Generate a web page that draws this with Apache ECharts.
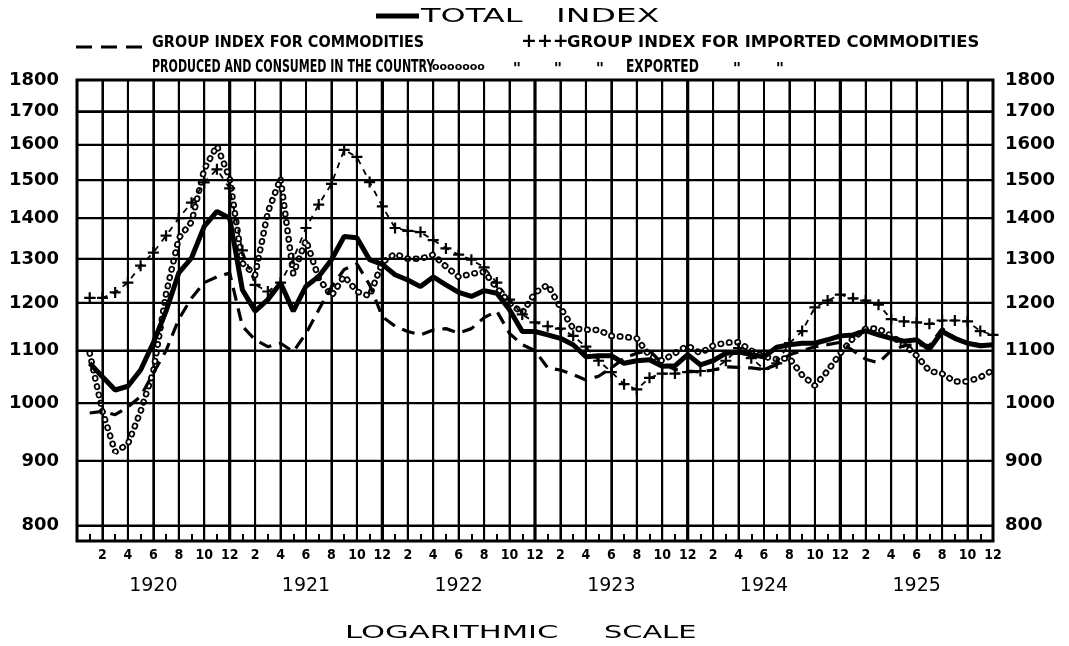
<!DOCTYPE html>
<html>
<head>
<meta charset="utf-8">
<title>Index numbers 1920-1925</title>
<script src="https://cdn.jsdelivr.net/npm/echarts@6/dist/echarts.min.js"></script>
<style>
  html, body { margin: 0; padding: 0; background: #fff; }
  #chart { width: 1069px; height: 646px; }
</style>
</head>
<body>
<div id="chart"></div>
<script>
// months Jan 1920 .. Dec 1925, one value per month
const years = ['1920', '1921', '1922', '1923', '1924', '1925'];
const yTicks = [800, 900, 1000, 1100, 1200, 1300, 1400, 1500, 1600, 1700, 1800];
const monthLines = [2, 4, 6, 8, 10, 14, 16, 18, 20, 22, 26, 28, 30, 32, 34, 38, 40, 42, 44, 46,
  50, 52, 54, 56, 58, 62, 64, 66, 68, 70];
const yearLines = [12, 24, 36, 48, 60];
const yMin = 778;
const yMax = 1800;

const totalIndex = [
  1075, 1049, 1024, 1031, 1062, 1116, 1182, 1267, 1302, 1379, 1417, 1400,
  1229, 1182, 1207, 1244, 1182, 1237, 1259, 1298, 1354, 1351, 1298, 1287,
  1263, 1251, 1236, 1258, 1240, 1223, 1214, 1227, 1221, 1185, 1139, 1139,
  1132, 1125, 1112, 1088, 1090, 1090, 1075, 1080, 1082, 1069, 1070, 1092,
  1072, 1080, 1095, 1097, 1092, 1088, 1107, 1112, 1115, 1115, 1122, 1130,
  1132, 1141, 1132, 1125, 1119, 1122, 1103, 1139, 1125, 1115, 1110, 1112
];
const domestic = [
  982, 985, 979, 993, 1012, 1056, 1100, 1165, 1210, 1245, 1258, 1267,
  1150, 1122, 1108, 1115, 1098, 1135, 1185, 1235, 1275, 1288, 1240, 1170,
  1150, 1139, 1132, 1142, 1145, 1136, 1145, 1168, 1182, 1135, 1112, 1100,
  1066, 1062, 1053, 1043, 1050, 1066, 1085, 1095, 1100, 1075, 1063, 1060,
  1058, 1062, 1068, 1067, 1066, 1063, 1072, 1092, 1100, 1108, 1112, 1117,
  1100, 1083, 1076, 1100, 1110, 1112, 1110, 1145, 1125, 1115, 1112, 1110
];
const imported = [
  1211, 1211, 1223, 1245, 1284, 1315, 1356, 1400, 1440, 1494, 1530, 1478,
  1320, 1240, 1225, 1245, 1300, 1375, 1435, 1490, 1585, 1565, 1495, 1430,
  1375, 1368, 1365, 1345, 1325, 1310, 1298, 1280, 1245, 1207, 1175, 1158,
  1150, 1145, 1130, 1108, 1080, 1058, 1035, 1025, 1047, 1055, 1055, 1058,
  1060, 1062, 1080, 1105, 1085, 1064, 1075, 1115, 1140, 1190, 1205, 1218,
  1210, 1205, 1196, 1165, 1160, 1158, 1155, 1162, 1162, 1160, 1140, 1132
];
const exported = [
  1095, 985, 915, 928, 985, 1059, 1220, 1350, 1390, 1530, 1597, 1505,
  1290, 1262, 1415, 1505, 1265, 1345, 1255, 1215, 1260, 1225, 1215, 1292,
  1312, 1300, 1300, 1310, 1282, 1258, 1265, 1270, 1233, 1200, 1178, 1222,
  1240, 1190, 1145, 1143, 1142, 1130, 1128, 1125, 1090, 1080, 1095, 1110,
  1095, 1110, 1116, 1117, 1100, 1088, 1083, 1085, 1052, 1032, 1060, 1095,
  1125, 1145, 1145, 1130, 1112, 1090, 1060, 1055, 1040, 1040, 1048, 1062
];

function pairs (arr) {
  return arr.map((v, i) => [i + 1, v]);
}

// ruled paper drawn as broken polylines, '-' splits the segments
function hRules (vals) {
  const out = [];
  vals.forEach(v => { out.push([0, v], [72, v], ['-', '-']); });
  return out;
}
function vRules (ms) {
  const out = [];
  ms.forEach(m => { out.push([m, yMin], [m, yMax], ['-', '-']); });
  return out;
}

const labelFont = {
  fontFamily: 'DejaVu Sans',
  fontWeight: 'bold',
  fontSize: 18,
  color: '#000'
};
const condensed = "'DejaVu Sans Condensed', 'Liberation Sans Narrow', 'DejaVu Sans', sans-serif";

const tickLabels = [];
yTicks.forEach(v => {
  tickLabels.push({ yAxis: v, label: Object.assign({ show: true, position: 'start', distance: 18, formatter: String(v) }, labelFont) });
  tickLabels.push({ yAxis: v, label: Object.assign({ show: true, position: 'end', distance: 12, formatter: String(v) }, labelFont) });
});

const plusPath = 'path://M4,0H6V4H10V6H6V10H4V6H0V4H4Z';

function ruleSeries (name, data, width) {
  return {
    name: name,
    type: 'line',
    data: data,
    showSymbol: false,
    connectNulls: false,
    clip: false,
    silent: true,
    lineStyle: { color: '#000', width: width, type: 'solid', cap: 'butt' }
  };
}

let myChart = echarts.init(document.getElementById('chart'));
myChart.setOption({
  backgroundColor: '#fff',
  animation: false,
  grid: {
    left: 77,
    right: 76,
    top: 80,
    bottom: 105,
    show: true,
    backgroundColor: 'rgba(0,0,0,0)',
    borderColor: '#000',
    borderWidth: 3,
    outerBoundsMode: 'none'
  },
  xAxis: [{
    type: 'value',
    min: 0,
    max: 72,
    interval: 2,
    axisLine: { show: false },
    axisTick: { show: true, inside: true, length: 14, lineStyle: { color: '#000', width: 2 } },
    minorTick: { show: true, splitNumber: 2, length: 7, lineStyle: { color: '#000', width: 2 } },
    splitLine: { show: true, lineStyle: { color: '#000', width: 2 } },
    axisLabel: {
      margin: 7,
      fontFamily: condensed,
      fontWeight: 'bold',
      fontSize: 14,
      color: '#000',
      formatter: function (v) {
        if (v === 0) return '';
        return String((v - 1) % 12 + 1);
      }
    }
  }, {
    type: 'category',
    data: years,
    position: 'bottom',
    offset: 30,
    axisLine: { show: false },
    axisTick: { show: false },
    splitLine: { show: false },
    axisLabel: {
      margin: 6,
      fontFamily: 'DejaVu Sans',
      fontSize: 19,
      color: '#000'
    }
  }],
  yAxis: {
    type: 'log',
    logBase: 10,
    min: yMin,
    max: yMax,
    axisLine: { show: false },
    axisTick: { show: false },
    axisLabel: { show: false },
    splitLine: { show: false },
    minorSplitLine: { show: false }
  },
  series: [
    Object.assign(ruleSeries('value rules', hRules(yTicks), 2.2), {
      markLine: {
        silent: true,
        symbol: ['none', 'none'],
        animation: false,
        lineStyle: { color: '#000', width: 2.2, type: 'solid' },
        data: tickLabels
      }
    }),
    ruleSeries('month rules', vRules(monthLines), 2),
    ruleSeries('year rules', vRules(yearLines), 3.2),
    {
      name: 'exported',
      type: 'line',
      data: pairs(exported),
      showSymbol: false,
      silent: true,
      lineStyle: { color: '#000', width: 6.5, type: [0.5, 8], cap: 'round' }
    },
    {
      name: 'exported rings',
      type: 'line',
      data: pairs(exported),
      showSymbol: false,
      silent: true,
      lineStyle: { color: '#fff', width: 3, type: [0.5, 8], cap: 'round' }
    },
    {
      name: 'domestic',
      type: 'line',
      data: pairs(domestic),
      showSymbol: false,
      silent: true,
      lineStyle: { color: '#000', width: 3.2, type: [13, 8], cap: 'butt' }
    },
    {
      name: 'imported',
      type: 'line',
      data: pairs(imported),
      symbol: plusPath,
      symbolSize: 11,
      showAllSymbol: true,
      silent: true,
      itemStyle: { color: '#000' },
      lineStyle: { color: '#000', width: 1.8, type: [6, 6], cap: 'butt' }
    },
    {
      name: 'total',
      type: 'line',
      data: pairs(totalIndex),
      showSymbol: false,
      silent: true,
      lineStyle: { color: '#000', width: 5, type: 'solid', cap: 'butt' }
    }
  ],
  graphic: [
    { type: 'line', shape: { x1: 376, y1: 16, x2: 419, y2: 16 }, style: { stroke: '#000', lineWidth: 5 } },
    { type: 'text', x: 421, y: 17, scaleX: 1.6, style: { text: 'TOTAL', font: '20px DejaVu Sans', fill: '#000', textAlign: 'left', textVerticalAlign: 'middle' } },
    { type: 'text', x: 556, y: 17, scaleX: 1.65, style: { text: 'INDEX', font: '20px DejaVu Sans', fill: '#000', textAlign: 'left', textVerticalAlign: 'middle' } },

    { type: 'line', shape: { x1: 76, y1: 47, x2: 149, y2: 47 }, style: { stroke: '#000', lineWidth: 3, lineDash: [16, 9] } },
    { type: 'text', x: 152, y: 43, style: { text: 'GROUP INDEX FOR COMMODITIES', font: 'bold 16px ' + condensed, fill: '#000', textAlign: 'left', textVerticalAlign: 'middle' } },
    { type: 'text', x: 152, y: 68, scaleX: 0.72, style: { text: 'PRODUCED AND CONSUMED IN THE COUNTRY', font: 'bold 17px ' + condensed, fill: '#000', textAlign: 'left', textVerticalAlign: 'middle' } },

    { type: 'text', x: 521, y: 42, style: { text: '+++', font: 'bold 19px DejaVu Sans', fill: '#000', textAlign: 'left', textVerticalAlign: 'middle' } },
    { type: 'text', x: 567, y: 43, scaleX: 1.14, style: { text: 'GROUP INDEX FOR IMPORTED COMMODITIES', font: 'bold 16px ' + condensed, fill: '#000', textAlign: 'left', textVerticalAlign: 'middle' } },

    { type: 'text', x: 432, y: 67, style: { text: 'ooooooo', font: 'bold 11px DejaVu Sans', fill: '#000', textAlign: 'left', textVerticalAlign: 'middle' } },
    { type: 'text', x: 517, y: 70, style: { text: '"', font: 'italic bold 16px DejaVu Sans', fill: '#000', textAlign: 'center', textVerticalAlign: 'middle' } },
    { type: 'text', x: 558, y: 70, style: { text: '"', font: 'italic bold 16px DejaVu Sans', fill: '#000', textAlign: 'center', textVerticalAlign: 'middle' } },
    { type: 'text', x: 600, y: 70, style: { text: '"', font: 'italic bold 16px DejaVu Sans', fill: '#000', textAlign: 'center', textVerticalAlign: 'middle' } },
    { type: 'text', x: 626, y: 68, scaleX: 0.8, style: { text: 'EXPORTED', font: 'bold 17px ' + condensed, fill: '#000', textAlign: 'left', textVerticalAlign: 'middle' } },
    { type: 'text', x: 737, y: 70, style: { text: '"', font: 'italic bold 16px DejaVu Sans', fill: '#000', textAlign: 'center', textVerticalAlign: 'middle' } },
    { type: 'text', x: 780, y: 70, style: { text: '"', font: 'italic bold 16px DejaVu Sans', fill: '#000', textAlign: 'center', textVerticalAlign: 'middle' } },

    { type: 'text', x: 345, y: 633, scaleX: 1.7, style: { text: 'LOGARITHMIC', font: '18px DejaVu Sans', fill: '#000', textAlign: 'left', textVerticalAlign: 'middle' } },
    { type: 'text', x: 604, y: 633, scaleX: 1.6, style: { text: 'SCALE', font: '18px DejaVu Sans', fill: '#000', textAlign: 'left', textVerticalAlign: 'middle' } }
  ]
});
</script>
</body>
</html>
